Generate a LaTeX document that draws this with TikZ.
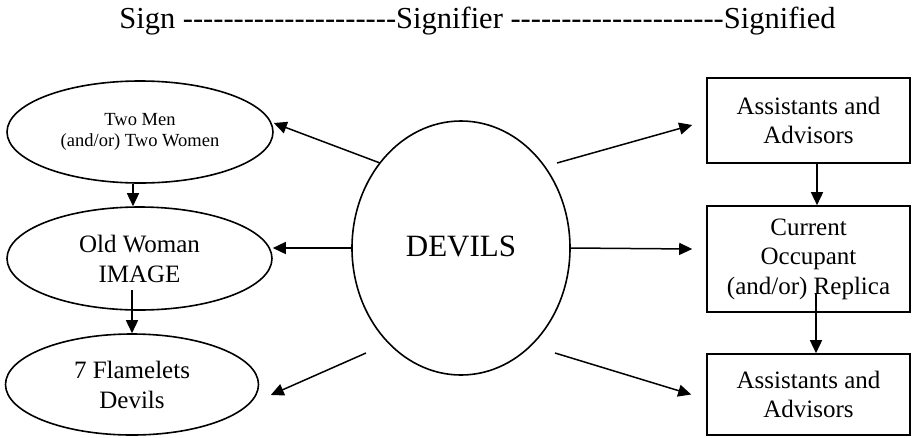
\documentclass[tikz,border=0pt]{standalone}
\usepackage{fontspec}
\setmainfont{Liberation Serif}
\usetikzlibrary{shapes.geometric,arrows.meta}
\newcount\hycnt
\newcommand\hyrun[1]{\hycnt=0 \loop\ifnum\hycnt<#1 -\kern0pt\advance\hycnt by 1 \repeat}
\tikzset{
  conn/.style={line width=1.5pt,-{Triangle[length=13pt,width=12pt]}},
  oval/.style={draw,line width=1.6pt,ellipse,inner sep=0pt,align=center},
  sbox/.style={draw,line width=1.6pt,rectangle,inner sep=0pt,align=center,
     font=\fontsize{25}{29.5}\selectfont},
}
\begin{document}
\begin{tikzpicture}[x=1pt,y=-1pt]
\useasboundingbox (0,0) rectangle (912,437);
% title
\node[anchor=base,inner sep=0pt,font=\fontsize{30.5}{36}\selectfont] (title) at (477.5,28)
  {Sign \hyrun{21}Signifier \hyrun{21}Signified};
% left ellipses
\node[oval,minimum width=266pt,minimum height=102pt,font=\fontsize{18.5}{20.5}\selectfont]
  (tw) at (140,132) {Two Men\\(and/or) Two Women};
\node[oval,minimum width=265pt,minimum height=103pt,font=\fontsize{25}{30}\selectfont]
  (ow) at (139.5,258.5) {Old Woman\\IMAGE};
\node[oval,minimum width=253pt,minimum height=101pt,font=\fontsize{25}{30}\selectfont]
  (fl) at (132,384.5) {7 Flamelets\\Devils};
% centre
\node[oval,minimum width=218pt,minimum height=254pt,font=\fontsize{31}{36}\selectfont]
  (dev) at (461,248) {\raisebox{4pt}{DEVILS}};
% right boxes
\node[sbox,minimum width=203pt,minimum height=85pt] (b1) at (808.5,120.5) {Assistants and\\Advisors};
\node[sbox,minimum width=203pt,minimum height=106pt] (b2) at (808.5,259) {Current\\Occupant\\(and/or) Replica};
\node[sbox,minimum width=203pt,minimum height=81pt] (b3) at (808.5,394.5) {Assistants and\\Advisors};
% vertical connectors
\draw[conn] ([xshift=-7pt]tw.south) -- ([xshift=-7pt]tw.south |- ow.north);
\coordinate (owout) at (132,290);
\draw[conn] (owout) -- (owout |- fl.north);
\draw[conn] ([xshift=8.5pt]b1.south) -- ([xshift=8.5pt]b1.south |- b2.north);
\coordinate (b2out) at (816,293);
\draw[conn] (b2out) -- (b2out |- b3.north);
% from DEVILS
\coordinate (d1) at (380,163);
\coordinate (d3) at (366,353);
\coordinate (d4) at (557,163);
\coordinate (d6) at (555,353);
\draw[conn] (d1) -- ([yshift=9pt]tw.east);
\draw[conn] (dev.west) -- ([yshift=10.5pt]ow.east);
\draw[conn] (d3) -- ([shift={(11.5pt,-10.5pt)}]fl.east);
\draw[conn] (d4) -- ([shift={(-14pt,-4.5pt)}]b1.west);
\draw[conn] (dev.east) -- ([shift={(-14pt,10pt)}]b2.west);
\draw[conn] (d6) -- ([shift={(-15pt,0pt)}]b3.west);
\end{tikzpicture}
\end{document}
